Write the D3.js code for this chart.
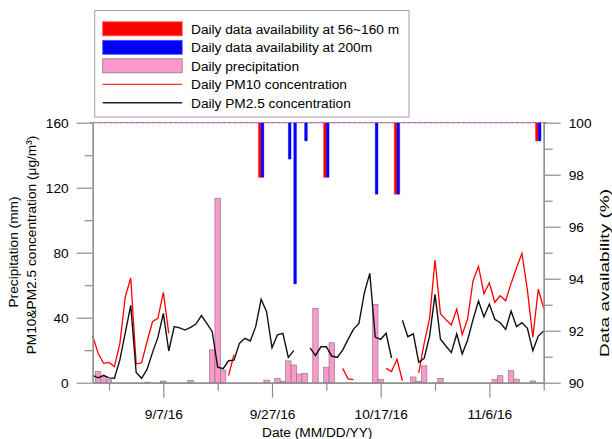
<!DOCTYPE html>
<html>
<head>
<meta charset="utf-8">
<script src="https://cdn.jsdelivr.net/npm/d3@7/dist/d3.min.js"></script>
<style>
  html, body { margin: 0; padding: 0; background: #fff; }
  svg { display: block; }
  text { font-family: "Liberation Sans", Arial, sans-serif; }
</style>
</head>
<body>
<svg id="chart" width="612" height="439"></svg>
<script>
// Daily series from 25 Aug 2016 to 16 Nov 2016 (84 days)
const startDate = new Date(2016, 7, 25);
const endDate = new Date(2016, 10, 16);

// PM10 concentration (µg/m3), null = no data
const pm10 = [
  28.7, 18.1, 11.9, 12.5, 9.9, 24.2, 52.9, 64.4, 11.5, 12.3,
  25.2, 37.5, 39.6, 55.6, 30.4, null, null, null, null, null,
  null, null, null, null, null, 4.3, 17.3, null, null, null,
  null, null, null, null, null, null, null, null, null, null,
  null, null, null, null, null, null, 8.8, 2.4, 1.9, null,
  null, null, null, null, 8.8, 6.9, 14.4, 1.2, null, null,
  6.0, 24.2, 39.6, 75.5, 42.5, 38.8, 35.5, 45.3, 29.6, 39.3,
  62.8, 71.6, 54.8, 61.5, 49.5, 53.5, 50.4, 61.1, 70.7, 79.6,
  57.0, 28.0, 57.5, 45.8
];

// PM2.5 concentration (µg/m3), null = no data
const pm25 = [
  4.5, 3.0, 4.5, 3.0, 2.8, 14.0, 30.8, 47.6, 6.3, 2.7,
  8.2, 18.5, 27.9, 42.7, 19.5, 34.5, 33.7, 32.4, 34.1, 36.1,
  41.3, 36.5, 31.4, 9.5, 8.6, 13.5, 13.9, 24.2, 27.3, 25.7,
  34.5, 51.3, 43.7, 21.5, 29.4, 30.4, 15.5, 19.7, null, null,
  21.4, 16.8, 22.1, 22.1, 16.4, 15.5, 20.1, 26.7, 33.0, 36.5,
  55.4, 67.3, 28.1, 26.7, 30.4, 15.2, null, 38.4, 28.3, 30.1,
  12.6, 15.0, 28.7, 54.4, 26.7, 22.6, 18.5, 30.0, 17.7, 26.3,
  39.0, 50.3, 40.6, 48.4, 39.0, 36.9, 32.8, 44.1, 34.5, 36.9,
  33.5, 19.7, 28.7, 31.8
];

// Daily precipitation (mm)
const precip = [
  0, 7.0, 3.7, 1.8, 0, 0, 0, 0, 0, 0,
  0.3, 0, 0, 1.0, 0, 0, 0, 0, 1.5, 0,
  0, 0, 20.2, 113.5, 7.8, 0, 0, 0, 0, 0,
  0, 0, 1.6, 0, 2.6, 0.9, 13.4, 10.9, 5.3, 5.8,
  0, 45.8, 0, 9.5, 24.6, 0, 0, 0, 0, 0,
  0, 0, 48.2, 2.1, 0, 0, 0, 0, 0, 3.5,
  0.8, 10.4, 0, 0, 2.6, 0, 0, 0, 0, 0,
  0, 0, 0, 0, 2.0, 4.3, 0, 7.4, 2.2, 0,
  0, 1.1, 0, 0
];

// Daily data availability (%) of the wind profile at 56~160 m
const avail56 = [
  100, 100, 100, 100, 100, 100, 100, 100, 100, 100,
  100, 100, 100, 100, 100, 100, 100, 100, 100, 100,
  100, 100, 100, 100, 100, 100, 100, 100, 100, 100,
  100, 97.9, 100, 100, 100, 100, 100, 100, 100, 100,
  100, 100, 100, 97.9, 100, 100, 100, 100, 100, 100,
  100, 100, 100, 100, 100, 100, 97.25, 100, 100, 100,
  100, 100, 100, 100, 100, 100, 100, 100, 100, 100,
  100, 100, 100, 100, 100, 100, 100, 100, 100, 100,
  100, 100, 99.3, 100
];

// Daily data availability (%) at 200 m
const avail200 = [
  100, 100, 100, 100, 100, 100, 100, 100, 100, 100,
  100, 100, 100, 100, 100, 100, 100, 100, 100, 100,
  100, 100, 100, 100, 100, 100, 100, 100, 100, 100,
  100, 97.9, 100, 100, 100, 100, 98.6, 93.8, 100, 99.3,
  100, 100, 100, 97.9, 100, 100, 100, 100, 100, 100,
  100, 100, 97.25, 100, 100, 100, 97.25, 100, 100, 100,
  100, 100, 100, 100, 100, 100, 100, 100, 100, 100,
  100, 100, 100, 100, 100, 100, 100, 100, 100, 100,
  100, 100, 99.3, 100
];

const leftTicks = [0, 40, 80, 120, 160];
const leftMinor = [20, 60, 100, 140];
const rightTicks = [90, 92, 94, 96, 98, 100];
const rightMinor = [91, 93, 95, 97, 99];
const dateTicks = [new Date(2016, 8, 7), new Date(2016, 8, 27), new Date(2016, 9, 17), new Date(2016, 10, 6)];
const dateMinor = [new Date(2016, 7, 28), new Date(2016, 8, 17), new Date(2016, 9, 7), new Date(2016, 9, 27), new Date(2016, 10, 16)];

const legendItems = [
  { label: "Daily data availability at 56~160 m", kind: "rect", color: "#ff0000", stroke: "#ff5050" },
  { label: "Daily data availability at 200m", kind: "rect", color: "#0000ff", stroke: "#5050ff" },
  { label: "Daily precipitation", kind: "rect", color: "#ff99cc", stroke: "#8a7a82" },
  { label: "Daily PM10 concentration", kind: "line", color: "#ff0000", width: 1 },
  { label: "Daily PM2.5 concentration", kind: "line", color: "#222222", width: 1.4 }
];

const days = d3.timeDay.range(startDate, d3.timeDay.offset(endDate, 1));

const plot = { left: 92.7, right: 543.7, top: 122.7, bottom: 382.7 };
const axisColor = "#8c8c8c";
const fontSize = "13.7px";

const svg = d3.select("#chart");

const x = d3.scaleTime().domain([startDate, endDate]).range([plot.left, plot.right]);
const yL = d3.scaleLinear().domain([0, 160]).range([plot.bottom, plot.top]);
const yR = d3.scaleLinear().domain([90, 100]).range([plot.bottom, plot.top]);
const dayW = x(d3.timeDay.offset(startDate, 1)) - x(startDate);

// precipitation bars
svg.append("g")
  .selectAll("rect")
  .data(days.map((d, i) => ({ d, v: precip[i] })).filter(p => p.v > 0))
  .join("rect")
  .attr("x", p => x(p.d) - dayW / 2)
  .attr("width", dayW)
  .attr("y", p => yL(p.v))
  .attr("height", p => yL(0) - yL(p.v))
  .attr("fill", "#ff99cc")
  .attr("stroke", "#8a7a82")
  .attr("stroke-width", 0.7);

// availability bars hang down from 100 %
function availPath(xa, xb, v) {
  const y0 = yR(100), y1 = yR(v);
  return `M${xa},${y0}H${xb}V${y1}H${xa}Z`;
}
const availG = svg.append("g");
availG.selectAll("path.a56")
  .data(days.map((d, i) => ({ d, v: avail56[i] })))
  .join("path")
  .attr("class", "a56")
  .attr("d", p => availPath(x(p.d) - dayW / 2, x(p.d), p.v))
  .attr("fill", "#ff0000")
  .attr("stroke", "#ff0000")
  .attr("stroke-width", 0.4);
availG.selectAll("path.a200")
  .data(days.map((d, i) => ({ d, v: avail200[i] })))
  .join("path")
  .attr("class", "a200")
  .attr("d", p => availPath(x(p.d), x(p.d) + dayW / 2, p.v))
  .attr("fill", "#0000ff")
  .attr("stroke", "#0000ff")
  .attr("stroke-width", 0.4);

// concentration lines
const line = d3.line()
  .defined(p => p.v != null)
  .x(p => x(p.d))
  .y(p => yL(p.v));

svg.append("path")
  .datum(days.map((d, i) => ({ d, v: pm10[i] })))
  .attr("d", line)
  .attr("fill", "none")
  .attr("stroke", "#ff0000")
  .attr("stroke-width", 1.3);

svg.append("path")
  .datum(days.map((d, i) => ({ d, v: pm25[i] })))
  .attr("d", line)
  .attr("fill", "none")
  .attr("stroke", "#111111")
  .attr("stroke-width", 1.4);

// axes
function styleAxis(g) {
  g.selectAll(".domain").attr("stroke", axisColor).attr("stroke-width", 1.2);
  g.selectAll(".tick line").attr("stroke", axisColor).attr("stroke-width", 1.2);
  g.selectAll(".tick text").attr("fill", "#000").style("font-size", fontSize)
    .style("font-family", '"Liberation Sans", Arial, sans-serif');
}

svg.append("g").attr("transform", `translate(${plot.left},0)`)
  .call(d3.axisLeft(yL).tickValues(leftMinor).tickSize(8).tickSizeOuter(0).tickFormat(""))
  .call(styleAxis);
svg.append("g").attr("transform", `translate(${plot.left},0)`)
  .call(d3.axisLeft(yL).tickValues(leftTicks).tickSize(16).tickPadding(8).tickSizeOuter(0))
  .call(styleAxis);

svg.append("g").attr("transform", `translate(${plot.right},0)`)
  .call(d3.axisRight(yR).tickValues(rightMinor).tickSize(9).tickSizeOuter(0).tickFormat(""))
  .call(styleAxis);
svg.append("g").attr("transform", `translate(${plot.right},0)`)
  .call(d3.axisRight(yR).tickValues(rightTicks).tickSize(17).tickPadding(8).tickSizeOuter(0))
  .call(styleAxis);

svg.append("g").attr("transform", `translate(0,${plot.bottom})`)
  .call(d3.axisBottom(x).tickValues(dateMinor).tickSize(8).tickSizeOuter(0).tickFormat(""))
  .call(styleAxis);
svg.append("g").attr("transform", `translate(0,${plot.bottom})`)
  .call(d3.axisBottom(x).tickValues(dateTicks).tickSize(15).tickPadding(12).tickSizeOuter(0)
    .tickFormat(d3.timeFormat("%-m/%-d/%y")))
  .call(styleAxis);

// axis titles
svg.append("text")
  .attr("x", (plot.left + plot.right) / 2 - 1)
  .attr("y", 436.5)
  .attr("text-anchor", "middle")
  .style("font-size", fontSize)
  .text("Date (MM/DD/YY)");

svg.append("text")
  .attr("transform", "translate(17.5,252) rotate(-90)")
  .attr("text-anchor", "middle")
  .style("font-size", fontSize)
  .text("Precipitation (mm)");

svg.append("text")
  .attr("transform", "translate(35.5,245) rotate(-90)")
  .attr("text-anchor", "middle")
  .style("font-size", fontSize)
  .text("PM10&PM2.5 concentration (μg/m³)");

// right title is set wider than its natural length
svg.append("text")
  .attr("transform", "translate(609,273) rotate(-90)")
  .attr("x", -84)
  .attr("textLength", 168)
  .attr("lengthAdjust", "spacingAndGlyphs")
  .style("font-size", fontSize)
  .text("Data availability (%)");

// legend
const lg = svg.append("g");
lg.append("rect")
  .attr("x", 94.7).attr("y", 10.5)
  .attr("width", 314.3).attr("height", 106.5)
  .attr("fill", "#fff")
  .attr("stroke", "#a0a0a0")
  .attr("stroke-width", 1);

legendItems.forEach((item, i) => {
  const cy = 28.8 + i * 18.5;
  if (item.kind === "rect") {
    lg.append("rect")
      .attr("x", 102.7).attr("y", cy - 7)
      .attr("width", 79.5).attr("height", 14)
      .attr("fill", item.color)
      .attr("stroke", item.stroke)
      .attr("stroke-width", 0.8);
  } else {
    lg.append("line")
      .attr("x1", 102.7).attr("x2", 182.2)
      .attr("y1", cy).attr("y2", cy)
      .attr("stroke", item.color)
      .attr("stroke-width", item.width);
  }
  lg.append("text")
    .attr("x", 191)
    .attr("y", cy + 5)
    .style("font-size", fontSize)
    .text(item.label);
});
</script>
</body>
</html>
